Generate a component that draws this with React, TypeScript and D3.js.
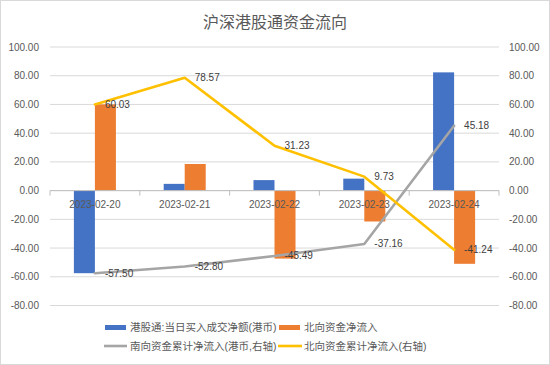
import { scaleBand, scaleLinear, line } from "d3";

const dates = ["2023-02-20", "2023-02-21", "2023-02-22", "2023-02-23", "2023-02-24"];
// 港股通 daily net buy (HKD) and northbound daily net inflow
const southDaily = [-57.5, 4.7, 7.31, 8.33, 82.34];
const northDaily = [60.03, 18.54, -47.34, -21.5, -50.97];
// cumulative lines (right axis)
const southCum = [-57.5, -52.8, -45.49, -37.16, 45.18];
const northCum = [60.03, 78.57, 31.23, 9.73, -41.24];
const yTicks = [-80, -60, -40, -20, 0, 20, 40, 60, 80, 100];

const barSeries = ["港股通:当日买入成交净额(港币)", "北向资金净流入"];
const lineSeries = ["南向资金累计净流入(港币,右轴)", "北向资金累计净流入(右轴)"];

const W = 550;
const H = 365;
const font = "'Liberation Sans', 'Noto Sans CJK SC', sans-serif";
const txt = "#595959";
const colors = { blue: "#4472C4", orange: "#ED7D31", gray: "#A5A5A5", yellow: "#FFC000" };

const App = () => {
  const x0 = scaleBand().domain(dates).range([50, 499]);
  const y = scaleLinear().domain([-80, 100]).range([305.5, 47]);
  const yR = scaleLinear().domain([-80, 100]).range([305.5, 47]);
  const barW = x0.bandwidth() * 0.234;
  const cx = (d: string) => (x0(d) ?? 0) + x0.bandwidth() / 2;
  const x1 = scaleBand().domain(barSeries).range([-barW, barW]);

  const lineGen = line<number>()
    .x((_, i) => cx(dates[i]))
    .y((v) => yR(v));

  const bars = [southDaily, northDaily];
  const barColors = [colors.blue, colors.orange];
  const lines = [southCum, northCum];
  const lineColors = [colors.gray, colors.yellow];

  return (
    <svg
      width={W}
      height={H}
      style={{ position: "absolute", left: 0, top: 0, fontFamily: font }}
    >
      <rect x={0.5} y={0.5} width={W - 1} height={H - 1} fill="#fff" stroke="#D9D9D9" />
      <text x={275} y={28} textAnchor="middle" fontSize={16} fill={txt}>
        沪深港股通资金流向
      </text>

      {yTicks.map((t) => (
        <g key={t}>
          <line x1={50} x2={499} y1={y(t)} y2={y(t)} stroke="#D9D9D9" strokeWidth={1} />
          <text x={39} y={y(t) + 3.5} textAnchor="end" fontSize={10} fill={txt}>
            {t.toFixed(2)}
          </text>
          <text x={509} y={yR(t) + 3.5} fontSize={10} fill={txt}>
            {t.toFixed(2)}
          </text>
        </g>
      ))}

      {bars.map((vals, s) =>
        vals.map((v, i) => (
          <rect
            key={`${s}-${i}`}
            x={cx(dates[i]) + (x1(barSeries[s]) ?? 0)}
            width={x1.bandwidth()}
            y={Math.min(y(v), y(0))}
            height={Math.abs(y(v) - y(0))}
            fill={barColors[s]}
          />
        ))
      )}

      <line x1={50} x2={499} y1={y(0)} y2={y(0)} stroke="#BFBFBF" />
      {[...dates.map((d) => x0(d) ?? 0), 499].map((xv, i) => (
        <line key={i} x1={xv} x2={xv} y1={y(0)} y2={y(0) + 5} stroke="#BFBFBF" />
      ))}
      {dates.map((d) => (
        <text key={d} x={cx(d)} y={y(0) + 17} textAnchor="middle" fontSize={10} fill={txt}>
          {d}
        </text>
      ))}

      {lines.map((vals, s) => (
        <path
          key={s}
          d={lineGen(vals) ?? ""}
          fill="none"
          stroke={lineColors[s]}
          strokeWidth={2.6}
          strokeLinejoin="round"
          strokeLinecap="round"
        />
      ))}
      {lines.map((vals, s) =>
        vals.map((v, i) => (
          <text
            key={`l${s}-${i}`}
            x={cx(dates[i]) + 10}
            y={yR(v) + 3.5}
            fontSize={10}
            fill="#404040"
          >
            {v.toFixed(2)}
          </text>
        ))
      )}

      {/* legend */}
      <g fontSize={10.5} fill={txt}>
        <rect x={105} y={325} width={21} height={5} fill={colors.blue} />
        <text x={130} y={331}>{barSeries[0]}</text>
        <rect x={279} y={325} width={21} height={5} fill={colors.orange} />
        <text x={304} y={331}>{barSeries[1]}</text>
        <line x1={104} x2={127} y1={346} y2={346} stroke={colors.gray} strokeWidth={2.6} />
        <text x={130} y={350}>{lineSeries[0]}</text>
        <line x1={278} x2={302} y1={346} y2={346} stroke={colors.yellow} strokeWidth={2.6} />
        <text x={304} y={350}>{lineSeries[1]}</text>
      </g>
    </svg>
  );
};

export default App;
